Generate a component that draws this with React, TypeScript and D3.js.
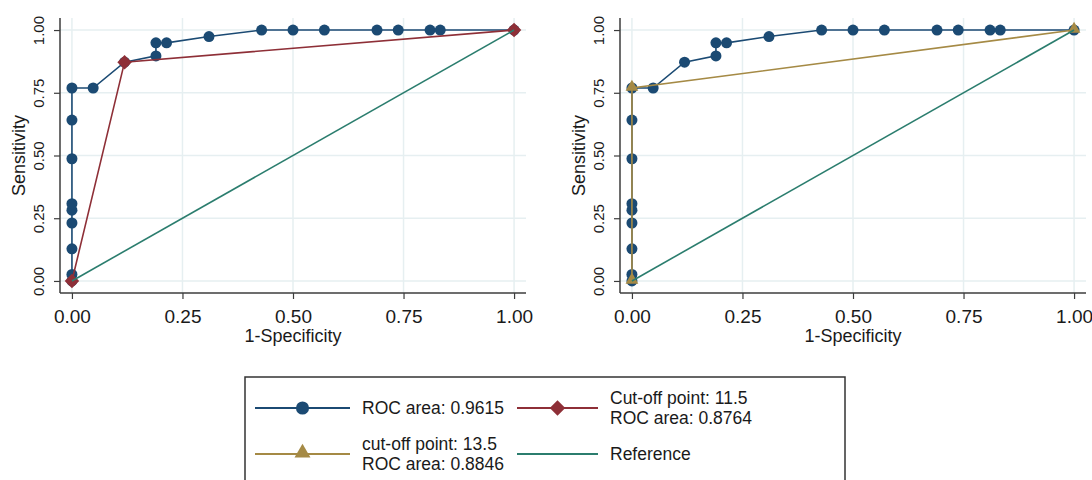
import React, { useEffect, useRef } from "react";
import * as d3 from "d3";

// ROC curve (both panels)
const rocFpr = [0, 0, 0, 0, 0, 0, 0, 0, 0, 0.048, 0.119, 0.19, 0.19, 0.214, 0.31, 0.429, 0.5, 0.571, 0.69, 0.738, 0.81, 0.833, 1];
const rocTpr = [0, 0.026, 0.128, 0.231, 0.282, 0.308, 0.487, 0.641, 0.769, 0.769, 0.872, 0.897, 0.949, 0.949, 0.974, 1, 1, 1, 1, 1, 1, 1, 1];

// cut-off 11.5 (left panel)
const cut115Fpr = [0, 0.119, 1];
const cut115Tpr = [0, 0.872, 1];

// cut-off 13.5 (right panel)
const cut135Fpr = [0, 0, 1];
const cut135Tpr = [0, 0.769, 1];

// reference diagonal
const refFpr = [0, 1];
const refTpr = [0, 1];

const ticks = [0, 0.25, 0.5, 0.75, 1];
const tickLabels = ["0.00", "0.25", "0.50", "0.75", "1.00"];

const legendLabels = [
  ["ROC area: 0.9615"],
  ["Cut-off point: 11.5", "ROC area: 0.8764"],
  ["cut-off point: 13.5", "ROC area: 0.8846"],
  ["Reference"],
];

const BLUE = "#1b4a73";
const RED = "#8e2f37";
const GOLD = "#a58a45";
const TEAL = "#2b7d6e";
const GRID = "#e6eff1";
const AXIS = "#3c3c3c";
const FONT = "'Liberation Sans', Arial, sans-serif";

const App = () => {
  const ref = useRef<SVGSVGElement>(null);

  useEffect(() => {
    document.body.style.margin = "0";
    const svg = d3.select(ref.current);
    svg.selectAll("*").remove();

    const zip = (xs: number[], ys: number[]) => xs.map((x, i) => [x, ys[i]] as [number, number]);

    const circle = d3.symbol().type(d3.symbolCircle).size(95);
    const diamond = d3.symbol().type(d3.symbolSquare).size(105);
    const triangle = d3.symbol().type(d3.symbolTriangle).size(70);

    function panel(left: number, cut: { fpr: number[]; tpr: number[]; color: string; kind: string }) {
      var xScale = d3.scaleLinear().domain([-0.027, 1.027]).range([left, left + 466]);
      var yScale = d3.scaleLinear().domain([-0.048, 1.048]).range([293, 18]);
      var g = svg.append("g");

      // grid
      g.selectAll(".gx")
        .data(ticks)
        .enter()
        .append("line")
        .attr("x1", (d) => xScale(d))
        .attr("x2", (d) => xScale(d))
        .attr("y1", yScale.range()[1])
        .attr("y2", yScale.range()[0])
        .attr("stroke", GRID)
        .attr("stroke-width", 1.5);
      g.selectAll(".gy")
        .data(ticks)
        .enter()
        .append("line")
        .attr("y1", (d) => yScale(d))
        .attr("y2", (d) => yScale(d))
        .attr("x1", xScale.range()[0])
        .attr("x2", xScale.range()[1])
        .attr("stroke", GRID)
        .attr("stroke-width", 1.5);

      // axes
      var xAxis = d3.axisBottom(xScale).tickValues(ticks).tickSize(6).tickFormat((d, i) => tickLabels[i]);
      var yAxis = d3.axisLeft(yScale).tickValues(ticks).tickSize(6).tickFormat((d, i) => tickLabels[i]);

      var gx = g.append("g").attr("transform", "translate(0,293)").call(xAxis);
      gx.attr("font-family", FONT).attr("font-size", 19);
      gx.select(".domain").attr("stroke", AXIS).attr("stroke-width", 1.5).attr("d", `M${xScale.range()[0]},0H${xScale.range()[1]}`);
      gx.selectAll(".tick line").attr("stroke", AXIS).attr("stroke-width", 1.2);
      gx.selectAll(".tick text").attr("y", 30).attr("dy", 0).attr("fill", "#1a1a1a");

      var gy = g.append("g").attr("transform", `translate(${left},0)`).call(yAxis);
      gy.attr("font-family", FONT).attr("font-size", 15);
      gy.select(".domain").attr("stroke", AXIS).attr("stroke-width", 1.5).attr("d", `M0,${yScale.range()[1]}V${yScale.range()[0]}`);
      gy.selectAll(".tick line").attr("stroke", AXIS).attr("stroke-width", 1.2);
      gy.selectAll(".tick text")
        .attr("x", null)
        .attr("dy", null)
        .attr("transform", "translate(-16,0) rotate(-90)")
        .attr("text-anchor", "middle")
        .attr("fill", "#1a1a1a");

      g.append("text")
        .attr("transform", `translate(${left - 35},${(yScale.range()[0] + yScale.range()[1]) / 2}) rotate(-90)`)
        .attr("text-anchor", "middle")
        .attr("fill", "#1a1a1a")
        .attr("font-family", FONT)
        .attr("font-size", 18)
        .text("Sensitivity");

      g.append("text")
        .attr("x", xScale(0.5))
        .attr("y", 342)
        .attr("text-anchor", "middle")
        .attr("fill", "#1a1a1a")
        .attr("font-family", FONT)
        .attr("font-size", 18)
        .text("1-Specificity");

      var line = d3
        .line()
        .x((d) => xScale(d[0]))
        .y((d) => yScale(d[1]));

      // ROC curve
      var roc = zip(rocFpr, rocTpr);
      g.append("path").attr("d", line(roc)).attr("fill", "none").attr("stroke", BLUE).attr("stroke-width", 1.6);
      g.selectAll(".roc")
        .data(roc)
        .enter()
        .append("path")
        .attr("d", circle)
        .attr("transform", (d) => `translate(${xScale(d[0])},${yScale(d[1])})`)
        .attr("fill", BLUE);

      // cut-off curve
      var cutPts = zip(cut.fpr, cut.tpr);
      g.append("path").attr("d", line(cutPts)).attr("fill", "none").attr("stroke", cut.color).attr("stroke-width", 1.6);
      g.selectAll(".cut")
        .data(cutPts)
        .enter()
        .append("path")
        .attr("d", cut.kind === "diamond" ? diamond : triangle)
        .attr("transform", (d) =>
          `translate(${xScale(d[0])},${yScale(d[1])})` + (cut.kind === "diamond" ? " rotate(45)" : " translate(0,-1)")
        )
        .attr("fill", cut.color);

      // reference
      g.append("path").attr("d", line(zip(refFpr, refTpr))).attr("fill", "none").attr("stroke", TEAL).attr("stroke-width", 1.6);
    }

    panel(60, { fpr: cut115Fpr, tpr: cut115Tpr, color: RED, kind: "diamond" });
    panel(620, { fpr: cut135Fpr, tpr: cut135Tpr, color: GOLD, kind: "triangle" });

    // legend
    var lg = svg.append("g");
    lg.append("rect")
      .attr("x", 245)
      .attr("y", 377)
      .attr("width", 600)
      .attr("height", 130)
      .attr("fill", "white")
      .attr("stroke", "#333")
      .attr("stroke-width", 1.5);

    var items = [
      { color: BLUE, kind: "circle", x1: 255, x2: 350, y: 408, tx: 362 },
      { color: RED, kind: "diamond", x1: 517, x2: 598, y: 408, tx: 610 },
      { color: GOLD, kind: "triangle", x1: 255, x2: 350, y: 454, tx: 362 },
      { color: TEAL, kind: "none", x1: 517, x2: 598, y: 454, tx: 610 },
    ];
    var bigCircle = d3.symbol().type(d3.symbolCircle).size(135);
    var bigDiamond = d3.symbol().type(d3.symbolSquare).size(120);
    var bigTriangle = d3.symbol().type(d3.symbolTriangle).size(110);

    items.forEach((it, i) => {
      lg.append("line")
        .attr("x1", it.x1)
        .attr("x2", it.x2)
        .attr("y1", it.y)
        .attr("y2", it.y)
        .attr("stroke", it.color)
        .attr("stroke-width", 2);
      var mx = (it.x1 + it.x2) / 2;
      if (it.kind === "circle") {
        lg.append("path").attr("d", bigCircle).attr("transform", `translate(${mx},${it.y})`).attr("fill", it.color);
      } else if (it.kind === "diamond") {
        lg.append("path").attr("d", bigDiamond).attr("transform", `translate(${mx},${it.y}) rotate(45)`).attr("fill", it.color);
      } else if (it.kind === "triangle") {
        lg.append("path").attr("d", bigTriangle).attr("transform", `translate(${mx},${it.y - 1})`).attr("fill", it.color);
      }
      var lines = legendLabels[i];
      var t = lg
        .append("text")
        .attr("x", it.tx)
        .attr("fill", "#1a1a1a")
        .attr("font-family", FONT)
        .attr("font-size", 17.5);
      lines.forEach((s, j) => {
        t.append("tspan")
          .attr("x", it.tx)
          .attr("y", it.y + 6 + (j - (lines.length - 1) / 2) * 20.5)
          .text(s);
      });
    });
  }, []);

  return <svg ref={ref} width={1092} height={480} style={{ display: "block", background: "white" }} />;
};

export default App;
